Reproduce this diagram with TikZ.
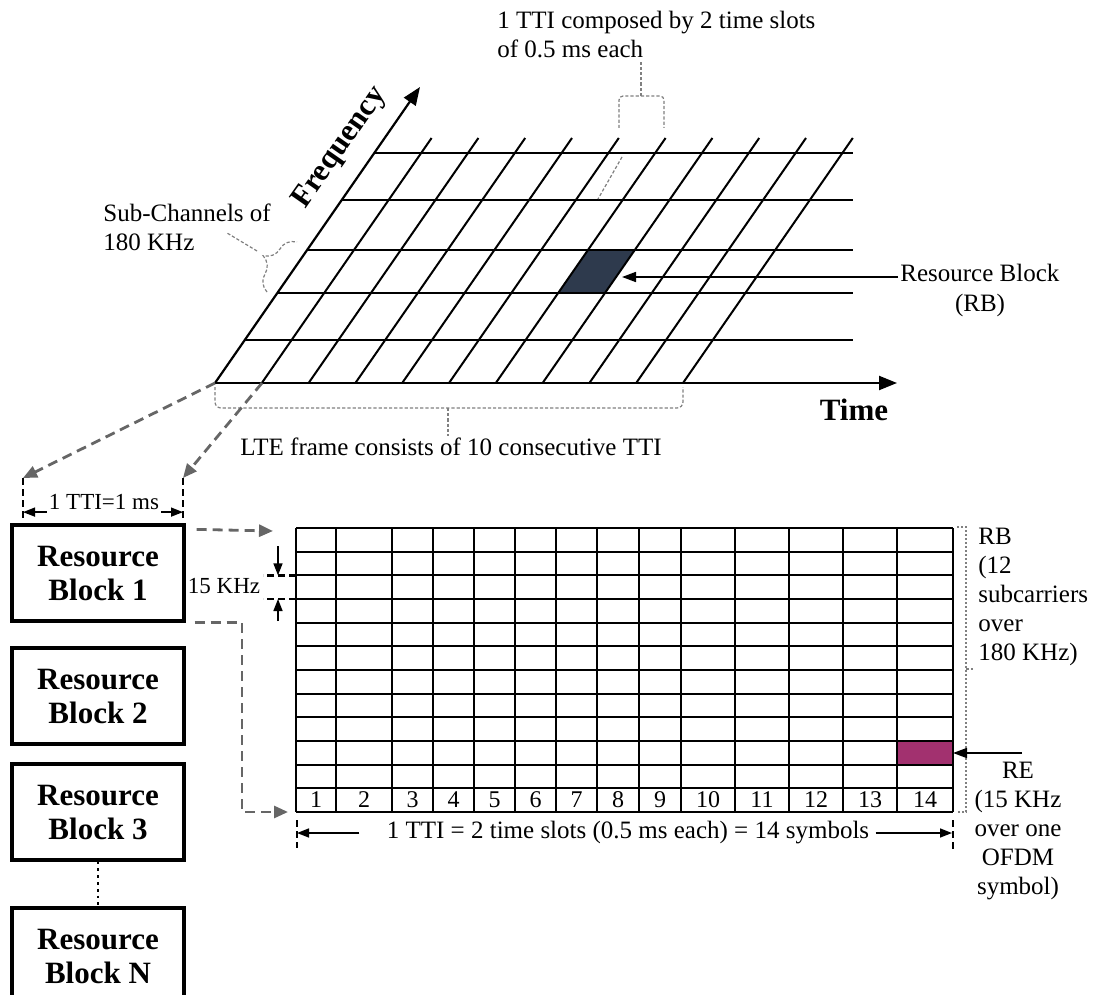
\documentclass[tikz,border=0pt]{standalone}
\usepackage{fontspec}
\setmainfont{Liberation Serif}
\usetikzlibrary{arrows.meta,decorations.pathreplacing}
\definecolor{rbdark}{HTML}{2E3A4D}
\definecolor{remag}{HTML}{A2316F}

\begin{document}
\begin{tikzpicture}[x=0.5pt, y=-0.5pt,
        gridline/.style={line width=1pt},
        axisline/.style={line width=1.1pt, -{Triangle[length=9pt,width=7pt]}},
        pointer/.style={line width=0.8pt, -{Triangle[length=7pt,width=5pt]}},
        dimline/.style={line width=0.8pt, -{Triangle[length=6pt,width=4.5pt]}},
        guide/.style={draw=gray, line width=0.6pt, dash pattern=on 1.6pt off 1pt},
        leader/.style={draw=black!60, line width=1.4pt, dash pattern=on 5pt off 3pt, -{Triangle[length=7pt,width=6pt]}},
        edgemark/.style={line width=1.2pt, dash pattern=on 3.5pt off 2pt},
        lbl/.style={font=\fontsize{12.5}{14.5}\selectfont, inner sep=1pt},
        smalllbl/.style={font=\fontsize{11.5}{13}\selectfont, inner sep=1pt},
        axlbl/.style={font=\bfseries\fontsize{15.5}{17}\selectfont, inner sep=1pt},
        block/.style={draw, line width=1.6pt, minimum width=86pt, minimum height=48pt, align=center, font=\bfseries\fontsize{15.5}{17}\selectfont},
        num/.style={font=\fontsize{12}{14}\selectfont, inner sep=0pt}
    ]
    \useasboundingbox (0,0) rectangle (1099,995);

    \coordinate (orig) at (215,383);
    \coordinate (slot1) at (262,383);
    \coordinate (ftip) at (420,87);
    \coordinate (ttip) at (897,383);

    \fill[rbdark] (588,250) -- (634.8,250) -- (605,293) -- (558.2,293) -- cycle;
    \foreach \y in {153,200,250,293,340}
        \draw[gridline] ({215+0.693*(383-\y)},\y) -- (853,\y);
    \foreach \i in {1,...,10}
        \draw[gridline] ({215+46.8*\i},383) -- ({384.8+46.8*\i},138);
    \draw[axisline] (orig) -- (ftip);
    \draw[axisline] (orig) -- (ttip);
    \node[axlbl, rotate=55] (freq) at (340,148) {Frequency};
    \node[axlbl] (time) at (854,410) {Time};

    \coordinate (rbtip) at (622,277);
    \node[lbl, anchor=west] (rbname) at (898,273) {Resource Block};
    \node[lbl] (rbabbr) at (980,305) {(RB)};
    \draw[pointer] (rbname.west |- rbtip) -- (rbtip);

    \node[lbl, align=left, anchor=west] (subch) at (101,227) {Sub-Channels of\\180 KHz};
    \draw[guide, decorate, decoration={brace, amplitude=11pt}] (267,292) -- (297,242);
    \coordinate (subtip) at (257,251);
    \draw[guide] (subtip) -- (227,233);

    \node[lbl, align=left, anchor=west] (ttinote) at (495,35) {1 TTI composed by 2 time slots\\of 0.5 ms each};
    \coordinate (slotb) at (641,96);
    \draw[guide, rounded corners=2pt] (619,128) |- (slotb) -| (664,128);
    \draw[guide] (slotb) -- (slotb |- ttinote.south);
    \draw[guide] (622,157) -- (598,199);

    \coordinate (frameb) at (448,408);
    \draw[guide, rounded corners=3pt] (215,387) |- (frameb) -| (683,387);
    \node[lbl] (frame) at (451,447) {LTE frame consists of 10 consecutive TTI};
    \draw[guide] (frameb) -- (frameb |- frame.north);

    \coordinate (ttil) at (23,478);
    \coordinate (ttir) at (183,478);
    \draw[leader] (orig) -- (ttil);
    \draw[leader] (slot1) -- (ttir);
    \draw[edgemark] (ttil) -- ++(0,43);
    \draw[edgemark] (ttir) -- ++(0,43);
    \node[smalllbl] (ttidim) at (104,502) {1 TTI=1 ms};
    \draw[dimline] (ttidim.south west) -- (ttidim.south west -| ttil);
    \draw[dimline] (ttidim.south east) -- (ttidim.south east -| ttir);

    \node[block] (rb1) at (98,573) {Resource\\Block 1};
    \node[block] (rb2) at (98,696) {Resource\\Block 2};
    \node[block] (rb3) at (98,812) {Resource\\Block 3};
    \node[block] (rbn) at (98,956) {Resource\\Block N};
    \draw[line width=1.4pt, dotted] (rb3.south) -- (rbn.north);

    \coordinate (gtl) at (296,528);
    \coordinate (gbl) at (296,812);
    \fill[remag] (897,741) rectangle (953,764.7);
    \foreach \k in {0,...,12}
        \draw[gridline] (296,{528+23.667*\k}) -- (953,{528+23.667*\k});
    \foreach \x in {296,336,392,433,474,515,556,597,639,681,735,789,843,897,953}
        \draw[gridline] (\x,528) -- (\x,812);
    \foreach \a/\b [count=\n] in {296/336,336/392,392/433,433/474,474/515,515/556,556/597,597/639,639/681,681/735,735/789,789/843,843/897,897/953}
        \node[num] (col\n) at ({(\a+\b)/2},800) {\n};

    \draw[leader] ([xshift=5.5pt,yshift=-3pt]rb1.north east) -- ([xshift=-11.5pt,yshift=-1.5pt]gtl);
    \draw[leader] ([xshift=4.5pt]rb1.south east) -| ([xshift=-27pt]gbl) -- ([xshift=-4pt]gbl);

    \coordinate (khzt) at (296,575.3);
    \coordinate (khzb) at (296,599);
    \draw[edgemark] (khzt) -- ++(-33,0);
    \draw[edgemark] (khzb) -- ++(-33,0);
    \draw[dimline] ([xshift=-9pt,yshift=14.5pt]khzt) -- ([xshift=-9pt]khzt);
    \draw[dimline] ([xshift=-9pt,yshift=-11pt]khzb) -- ([xshift=-9pt]khzb);
    \node[smalllbl] (khz) at (224,586) {15 KHz};

    \coordinate (syml) at (297,833);
    \coordinate (symr) at (952,833);
    \node[lbl] (symdim) at (628,833) {1 TTI = 2 time slots (0.5 ms each) = 14 symbols};
    \draw[dimline] ([xshift=-12.5pt]symdim.west) -- (syml);
    \draw[dimline] ([xshift=2pt]symdim.east) -- (symr);
    \draw[edgemark] (297,820) -- (297,848);
    \draw[edgemark] (953,820) -- (953,850);

    \draw[guide, dash pattern=on 1pt off 1pt] (957,527) -- (966,527) -- (966,812) -- (957,812);
    \draw[guide] (966,669) -- (973,669);
    \node[lbl, align=left, anchor=west] (rbnote) at (976,597) {RB\\(12\\subcarriers\\over\\180 KHz)};

    \coordinate (retip) at (953,753);
    \coordinate (restart) at (1022,753);
    \node[lbl, align=center] (renote) at (1018,831) {RE\\(15 KHz\\over one\\OFDM\\symbol)};
    \draw[pointer] (restart) -- (retip);
\end{tikzpicture}
\end{document}
